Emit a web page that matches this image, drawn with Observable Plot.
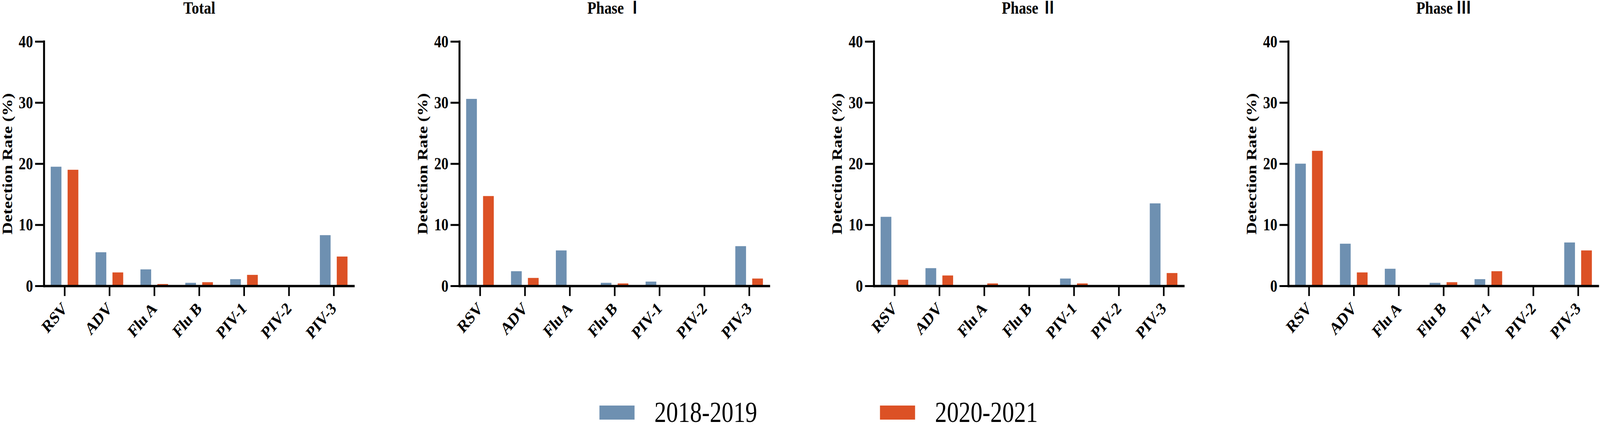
<!DOCTYPE html>
<html><head><meta charset="utf-8">
<script src="https://cdn.jsdelivr.net/npm/d3@7"></script>
<script src="https://cdn.jsdelivr.net/npm/@observablehq/plot@0.6"></script>
<style>
html,body{margin:0;padding:0;background:#fff;overflow:hidden;}
#root{position:absolute;left:0;top:0;width:4922px;height:1097px;font-family:"Liberation Serif","Times New Roman",serif;transform-origin:0 0;}
.panel{position:absolute;top:0;width:1094px;height:931px;}
.title{position:absolute;top:0;left:135px;width:956px;height:60px;line-height:40px;text-align:center;font-weight:bold;font-size:45px;color:#000;font-family:"Liberation Serif","Noto Sans CJK SC",serif;white-space:pre;}
.panel svg{position:absolute;top:60px;left:0;}
#legend{position:absolute;left:1844px;top:1027px;}
#legend .lg-swatch{margin-right:378px;}
#legend .lg-swatch > svg{margin-right:61px;}
</style></head><body><div id="root"></div>
<script>
const viruses = ["RSV", "ADV", "Flu A", "Flu B", "PIV-1", "PIV-2", "PIV-3"];
const seasons = ["2018-2019", "2020-2021"];
const seasonColors = ["#6E90B1", "#DC5125"];
const panelTitles = ["Total", "Phase Ⅰ", "Phase Ⅱ", "Phase Ⅲ"];
const yTicks = [0, 10, 20, 30, 40];
const yLabel = "Detection Rate (%)";

const total2018 = [19.5, 5.5, 2.7, 0.5, 1.1, 0, 8.3];
const total2020 = [19.0, 2.2, 0.3, 0.6, 1.8, 0, 4.8];
const phase1_2018 = [30.6, 2.4, 5.8, 0.5, 0.7, 0, 6.5];
const phase1_2020 = [14.7, 1.3, 0, 0.4, 0, 0, 1.2];
const phase2_2018 = [11.3, 2.9, 0, 0, 1.2, 0, 13.5];
const phase2_2020 = [1.0, 1.7, 0.4, 0, 0.4, 0, 2.1];
const phase3_2018 = [20.0, 6.9, 2.8, 0.5, 1.1, 0, 7.1];
const phase3_2020 = [22.1, 2.2, 0, 0.6, 2.4, 0, 5.8];

const panelSeries = [
  [total2018, total2020],
  [phase1_2018, phase1_2020],
  [phase2_2018, phase2_2020],
  [phase3_2018, phase3_2020]
];
const panelLefts = [0, 1278, 2553, 3828];

const root = document.getElementById("root");
const fontFam = '"Liberation Serif", "Times New Roman", serif';

panelSeries.forEach((series, p) => {
  const rows = [];
  series.forEach((vals, s) => vals.forEach((v, i) => rows.push({virus: viruses[i], season: seasons[s], rate: v})));
  const chart = Plot.plot({
    width: 1094,
    height: 871,
    marginLeft: 135,
    marginRight: 3,
    marginTop: 46,
    marginBottom: 200,
    style: {fontFamily: fontFam, fontWeight: "bold", fontSize: "44px", color: "#000", background: "transparent", overflow: "visible"},
    x: {domain: viruses, paddingInner: 0.381, paddingOuter: 0.13},
    y: {domain: [0, 40]},
    color: {domain: seasons, range: seasonColors},
    marks: [
      Plot.barY(rows.filter(d => d.season === seasons[0]), {x: "virus", y: "rate", fill: "season", insetRight: 52}),
      Plot.barY(rows.filter(d => d.season === seasons[1]), {x: "virus", y: "rate", fill: "season", insetLeft: 52}),
      Plot.ruleY([0], {stroke: "#000", strokeWidth: 6}),
      Plot.frame({anchor: "left", stroke: "#000", strokeWidth: 6}),
      Plot.axisY({ticks: yTicks, tickSize: 27, tickPadding: 7, strokeWidth: 5, stroke: "#000",
        label: yLabel, labelAnchor: "center", labelArrow: "none", labelOffset: 130,
        fontSize: 44, fontWeight: "bold"}),
      Plot.axisX({tickSize: 26, tickPadding: 24, strokeWidth: 5, stroke: "#000", tickRotate: -45,
        label: null, fontSize: 44, fontWeight: "bold"})
    ]
  });
  const panel = document.createElement("div");
  panel.className = "panel";
  panel.style.left = panelLefts[p] + "px";
  const title = document.createElement("div");
  title.className = "title";
  title.textContent = panelTitles[p];
  panel.appendChild(title);
  panel.appendChild(chart);
  root.appendChild(panel);
});

const legend = Plot.legend({
  color: {domain: seasons, range: seasonColors},
  legend: "swatches",
  swatchWidth: 108,
  swatchHeight: 36,
  className: "lg",
  style: {fontFamily: fontFam, fontSize: "73px", lineHeight: "56px", fontWeight: "normal", color: "#000", margin: "0", minHeight: "0"}
});
const lw = document.createElement("div");
lw.id = "legend";
lw.appendChild(legend);
root.appendChild(lw);

// The window may be narrower than the 4922px design; fit the whole figure into it.
function fit() {
  const sx = Math.min(1, window.innerWidth / 4922);
  const sy = Math.min(1, window.innerHeight / 1097);
  root.style.transform = "scale(" + sx + "," + sy + ")";
}
fit();
window.addEventListener("resize", fit);
</script></body></html>
